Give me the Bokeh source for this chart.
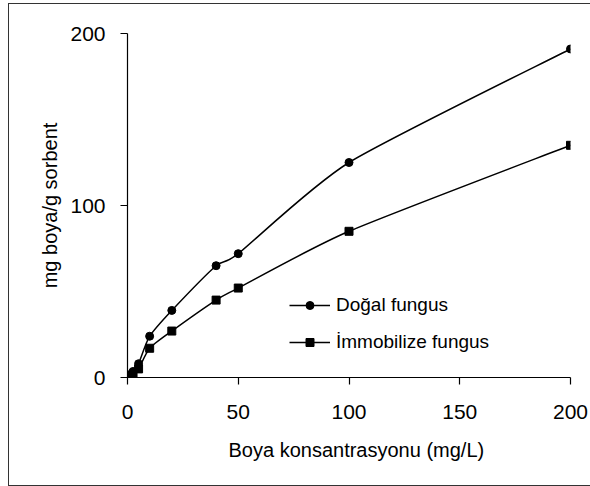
import numpy as np
from bokeh.plotting import figure
from bokeh.models import (Range1d, Legend, LegendItem, FixedTicker, Title,
                          InlineStyleSheet)
from bokeh.embed import file_html
from bokeh.resources import INLINE

# Dye adsorption: concentration (mg/L) vs uptake (mg dye / g sorbent)
konsantrasyon = [0, 1, 2.5, 5, 10, 20, 40, 50, 100, 200]
dogal_fungus = [0.5, 1.5, 3.5, 8, 24, 39, 65, 72, 125, 191]
immobilize_fungus = [0.3, 1, 2, 5, 17, 27, 45, 52, 85, 135]

x_ticks = [0, 50, 100, 150, 200]
y_ticks = [0, 100, 200]

FONT = "Liberation Sans"


def smooth_segments(xs, ys, t=0.11):
    """Cubic Bezier segments through the points (Catmull-Rom style)."""
    x = np.asarray(xs, float)
    y = np.asarray(ys, float)
    n = len(x)
    xp = np.concatenate([[x[0]], x, [x[-1]]])
    yp = np.concatenate([[y[0]], y, [y[-1]]])
    i = np.arange(n - 1)
    cx0 = x[i] + (xp[i + 2] - xp[i]) * t
    cy0 = y[i] + (yp[i + 2] - yp[i]) * t
    cx1 = x[i + 1] - (xp[i + 3] - xp[i + 1]) * t
    cy1 = y[i + 1] - (yp[i + 3] - yp[i + 1]) * t
    return dict(x0=x[:-1], y0=y[:-1], x1=x[1:], y1=y[1:],
                cx0=cx0, cy0=cy0, cx1=cx1, cy1=cy1)


# thin frame drawn around the whole chart area
frame_css = InlineStyleSheet(css="""
:host { position: relative; }
:host::after {
  content: "";
  position: absolute;
  left: 8px; top: 3px;
  width: 700px; height: 481px;
  border: 1.5px solid #333333;
  pointer-events: none;
}
""")

p = figure(width=590, height=486, output_backend="svg", toolbar_location=None,
           x_range=Range1d(0, 200), y_range=Range1d(0, 200))
p.stylesheets = [frame_css]
p.min_border_left = 127
p.min_border_right = 20
p.min_border_top = 33
p.min_border_bottom = 109
p.outline_line_color = None
p.grid.visible = False
p.background_fill_color = "white"
p.border_fill_color = "white"

for ax in (p.xaxis[0], p.yaxis[0]):
    ax.axis_line_color = "black"
    ax.axis_line_width = 1.2
    ax.major_tick_line_color = "black"
    ax.major_tick_line_width = 1.2
    ax.major_tick_in = 0
    ax.major_tick_out = 7
    ax.minor_tick_line_color = None
    ax.major_label_text_font = FONT
    ax.major_label_text_font_size = "21px"
    ax.major_label_text_color = "black"
    ax.axis_label_text_font = FONT
    ax.axis_label_text_font_size = "20px"
    ax.axis_label_text_font_style = "normal"
    ax.axis_label_text_color = "black"

p.xaxis[0].ticker = FixedTicker(ticks=x_ticks)
p.yaxis[0].ticker = FixedTicker(ticks=y_ticks)
p.yaxis[0].axis_label = "mg boya/g sorbent"
p.xaxis[0].major_label_standoff = 20
p.yaxis[0].major_label_standoff = 15
p.yaxis[0].axis_label_standoff = 6

x_title = Title(text="Boya konsantrasyonu (mg/L)", align="left", offset=101,
                text_font=FONT, text_font_size="20px", text_font_style="normal",
                text_color="black", standoff=30)
p.add_layout(x_title, "below")

seg_d = smooth_segments(konsantrasyon, dogal_fungus)
seg_i = smooth_segments(konsantrasyon, immobilize_fungus)
p.bezier(source=seg_d, x0="x0", y0="y0", x1="x1", y1="y1",
         cx0="cx0", cy0="cy0", cx1="cx1", cy1="cy1",
         line_color="black", line_width=1.5)
p.bezier(source=seg_i, x0="x0", y0="y0", x1="x1", y1="y1",
         cx0="cx0", cy0="cy0", cx1="cx1", cy1="cy1",
         line_color="black", line_width=1.5)

pts_d = p.scatter(konsantrasyon, dogal_fungus, marker="circle", size=8,
                  fill_color="black", line_color="black")
pts_i = p.scatter(konsantrasyon, immobilize_fungus, marker="square", size=8,
                  fill_color="black", line_color="black")

# single-point line renderers: invisible on the plot, they give the legend its line samples
leg_ld = p.line(konsantrasyon[-1:], dogal_fungus[-1:], line_color="black", line_width=1.5)
leg_li = p.line(konsantrasyon[-1:], immobilize_fungus[-1:], line_color="black", line_width=1.5)

legend = Legend(items=[
    LegendItem(label="Doğal fungus", renderers=[leg_ld, pts_d]),
    LegendItem(label="İmmobilize fungus", renderers=[leg_li, pts_i]),
], location=(162, 24))
legend.glyph_width = 41
legend.glyph_height = 20
legend.label_height = 20
legend.label_standoff = 6
legend.spacing = 15
legend.padding = 0
legend.margin = 0
legend.border_line_color = None
legend.background_fill_color = None
legend.label_text_font = FONT
legend.label_text_font_size = "19px"
legend.label_text_color = "black"
p.add_layout(legend)

open("out.html", "w").write(file_html(p, INLINE))
